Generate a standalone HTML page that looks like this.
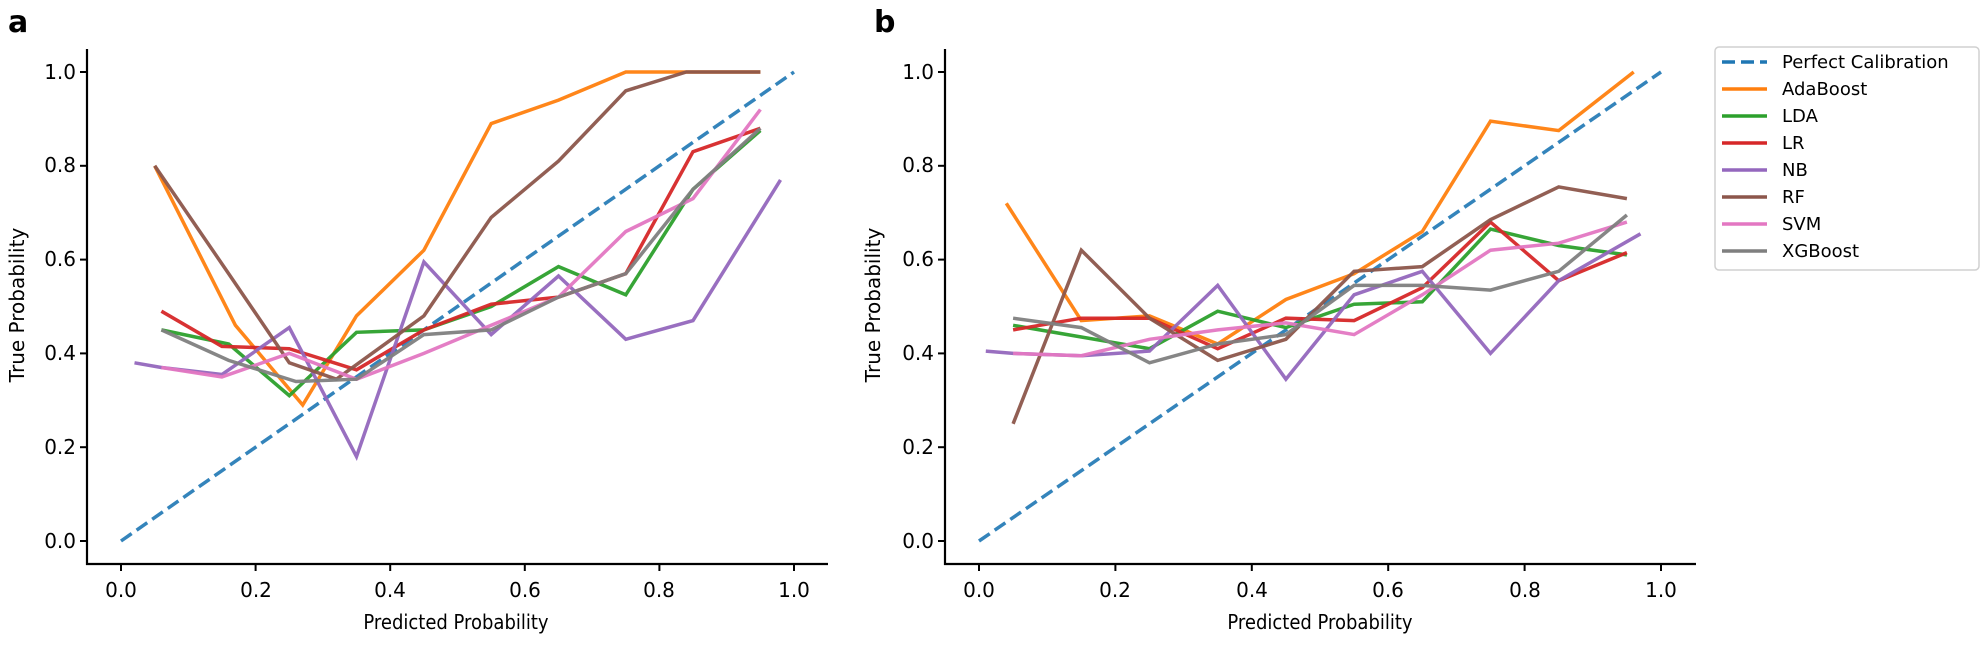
<!DOCTYPE html>
<html><head><meta charset="utf-8"><style>
html,body{margin:0;padding:0;background:#fff;}
svg{display:block;}
text{font-family:"DejaVu Sans","Liberation Sans",sans-serif;fill:#000;}
.tk{font-family:"DejaVu Sans Condensed","DejaVu Sans","Liberation Sans",sans-serif;font-size:20px;}
</style></head><body>
<svg id="s" width="1984" height="645" viewBox="0 0 1984 645" xmlns="http://www.w3.org/2000/svg">
<g id="plots"></g>
<g stroke="#000" stroke-width="2.2" fill="none">
<line x1="87" y1="49" x2="87" y2="565"/>
<line x1="86" y1="564" x2="828" y2="564"/>
<line x1="945" y1="49" x2="945" y2="565"/>
<line x1="944" y1="564" x2="1696" y2="564"/>
</g>
<g id="ticks" stroke="#000" stroke-width="2"></g>
<text x="8" y="32" font-size="30" font-weight="bold">a</text>
<text x="874" y="32" font-size="30" font-weight="bold">b</text>
<g class="tk" text-anchor="end">
<text x="76" y="548">0.0</text><text x="76" y="454">0.2</text><text x="76" y="360">0.4</text><text x="76" y="266">0.6</text><text x="76" y="172">0.8</text><text x="76" y="79">1.0</text>
<text x="934" y="548">0.0</text><text x="934" y="454">0.2</text><text x="934" y="360">0.4</text><text x="934" y="266">0.6</text><text x="934" y="172">0.8</text><text x="934" y="79">1.0</text>
</g>
<g class="tk" text-anchor="middle">
<text x="121" y="597">0.0</text><text x="256" y="597">0.2</text><text x="390" y="597">0.4</text><text x="525" y="597">0.6</text><text x="659" y="597">0.8</text><text x="794" y="597">1.0</text>
<text x="979" y="597">0.0</text><text x="1115" y="597">0.2</text><text x="1252" y="597">0.4</text><text x="1388" y="597">0.6</text><text x="1525" y="597">0.8</text><text x="1661" y="597">1.0</text>
</g>
<text x="456" y="629" font-size="20" text-anchor="middle" style="font-family:'DejaVu Sans Condensed','DejaVu Sans',sans-serif">Predicted Probability</text>
<text x="1320" y="629" font-size="20" text-anchor="middle" style="font-family:'DejaVu Sans Condensed','DejaVu Sans',sans-serif">Predicted Probability</text>
<text transform="translate(24,305) rotate(-90)" font-size="20" text-anchor="middle">True Probability</text>
<text transform="translate(880,305) rotate(-90)" font-size="20" text-anchor="middle">True Probability</text>
<rect x="1715" y="47" width="264" height="223" rx="4" fill="#fff" stroke="#d0d0d0" stroke-width="1.5"/>
<g id="leg" stroke-width="3.5"></g>
<g font-size="18">
<text x="1782" y="68">Perfect Calibration</text>
<text x="1782" y="95">AdaBoost</text>
<text x="1782" y="122">LDA</text>
<text x="1782" y="149">LR</text>
<text x="1782" y="176">NB</text>
<text x="1782" y="203">RF</text>
<text x="1782" y="230">SVM</text>
<text x="1782" y="257">XGBoost</text>
</g>
</svg>
<script>
var NS="http://www.w3.org/2000/svg";
var C={ada:"#ff7f0e",lda:"#2ca02c",lr:"#d62728",nb:"#9467bd",rf:"#8c564b",svm:"#e377c2",xgb:"#7f7f7f"};
var A={
ada:[[0.05,0.80],[0.17,0.46],[0.27,0.29],[0.35,0.48],[0.45,0.62],[0.55,0.89],[0.65,0.94],[0.75,1.0],[0.85,1.0],[0.95,1.0]],
lda:[[0.06,0.45],[0.16,0.42],[0.25,0.31],[0.35,0.445],[0.45,0.45],[0.55,0.50],[0.65,0.585],[0.75,0.525],[0.85,0.75],[0.95,0.875]],
lr:[[0.06,0.49],[0.15,0.415],[0.25,0.41],[0.35,0.365],[0.45,0.45],[0.55,0.505],[0.65,0.52],[0.75,0.57],[0.85,0.83],[0.95,0.88]],
nb:[[0.02,0.38],[0.06,0.37],[0.15,0.355],[0.25,0.455],[0.35,0.18],[0.45,0.595],[0.55,0.44],[0.65,0.565],[0.75,0.43],[0.85,0.47],[0.98,0.77]],
rf:[[0.05,0.80],[0.16,0.57],[0.25,0.38],[0.32,0.345],[0.45,0.48],[0.55,0.69],[0.65,0.81],[0.75,0.96],[0.84,1.0],[0.95,1.0]],
svm:[[0.06,0.37],[0.15,0.35],[0.25,0.40],[0.35,0.345],[0.45,0.40],[0.55,0.46],[0.65,0.52],[0.75,0.66],[0.85,0.73],[0.95,0.92]],
xgb:[[0.06,0.45],[0.16,0.385],[0.26,0.34],[0.35,0.345],[0.45,0.44],[0.55,0.45],[0.65,0.52],[0.75,0.57],[0.85,0.75],[0.95,0.88]]};
var B={
ada:[[0.04,0.72],[0.15,0.47],[0.25,0.48],[0.35,0.42],[0.45,0.515],[0.55,0.57],[0.65,0.66],[0.75,0.895],[0.85,0.875],[0.96,1.0]],
lda:[[0.05,0.46],[0.15,0.435],[0.25,0.41],[0.35,0.49],[0.45,0.455],[0.55,0.505],[0.65,0.51],[0.75,0.665],[0.85,0.63],[0.95,0.61]],
lr:[[0.05,0.45],[0.15,0.475],[0.25,0.475],[0.35,0.41],[0.45,0.475],[0.55,0.47],[0.65,0.54],[0.75,0.68],[0.85,0.555],[0.95,0.615]],
nb:[[0.01,0.405],[0.05,0.40],[0.15,0.395],[0.25,0.405],[0.35,0.545],[0.45,0.345],[0.55,0.525],[0.65,0.575],[0.75,0.40],[0.85,0.555],[0.97,0.655]],
rf:[[0.05,0.25],[0.15,0.62],[0.25,0.475],[0.35,0.385],[0.45,0.43],[0.55,0.575],[0.65,0.585],[0.75,0.685],[0.85,0.755],[0.95,0.73]],
svm:[[0.05,0.40],[0.15,0.395],[0.25,0.43],[0.35,0.45],[0.45,0.465],[0.55,0.44],[0.65,0.525],[0.75,0.62],[0.85,0.635],[0.95,0.68]],
xgb:[[0.05,0.475],[0.15,0.455],[0.25,0.38],[0.35,0.42],[0.45,0.44],[0.55,0.545],[0.65,0.545],[0.75,0.535],[0.85,0.575],[0.95,0.695]]};
var P=[{x0:121,sx:673,y0:541,sy:469,d:A,lx:87},{x0:979,sx:682,y0:541,sy:469,d:B,lx:945}];
var g=document.getElementById("plots"),tg=document.getElementById("ticks");
function el(n,a,p){var e=document.createElementNS(NS,n);for(var k in a)e.setAttribute(k,a[k]);p.appendChild(e);return e;}
P.forEach(function(p,i){
  var order=["ada","lda","lr","nb","rf","svm","xgb"];
  el("line",{x1:p.x0,y1:p.y0,x2:p.x0+p.sx,y2:p.y0-p.sy,stroke:"#1f77b4",opacity:0.9,"stroke-width":3.5,"stroke-dasharray":"13,6"},g);
  order.forEach(function(k){
    var pts=p.d[k].map(function(q){return (p.x0+q[0]*p.sx).toFixed(1)+","+(p.y0-q[1]*p.sy).toFixed(1);}).join(" ");
    el("polyline",{points:pts,fill:"none",stroke:C[k],"stroke-width":3.5,"stroke-linejoin":"miter",opacity:0.95},g);
  });
  for(var t=0;t<=5;t++){
    var v=t*0.2;
    el("line",{x1:p.lx-7,x2:p.lx,y1:p.y0-v*p.sy,y2:p.y0-v*p.sy},tg);
    el("line",{x1:p.x0+v*p.sx,x2:p.x0+v*p.sx,y1:564,y2:571},tg);
  }
});
var lg=document.getElementById("leg");
el("line",{x1:1722,x2:1767,y1:62,y2:62,stroke:"#1f77b4","stroke-dasharray":"13,6"},lg);
["ada","lda","lr","nb","rf","svm","xgb"].forEach(function(k,i){
  el("line",{x1:1722,x2:1767,y1:89+27*i,y2:89+27*i,stroke:C[k]},lg);
});
</script>
</body></html>
